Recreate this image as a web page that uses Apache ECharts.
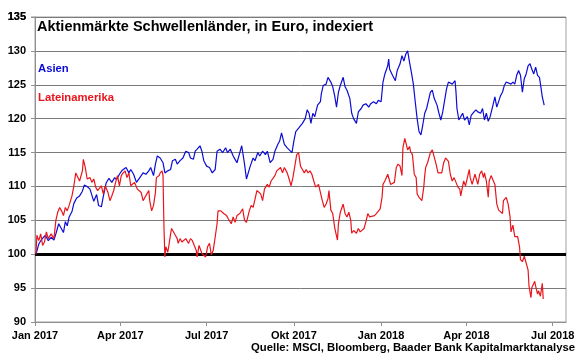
<!DOCTYPE html>
<html><head><meta charset="utf-8">
<script src="https://cdn.jsdelivr.net/npm/echarts@6/dist/echarts.min.js"></script>
<style>html,body{margin:0;padding:0;background:#fff}#c{width:580px;height:359px}</style>
</head><body><div id="c"></div>
<script>
// x = days since 1 Jan 2017
const titleText = 'Aktienmärkte Schwellenländer, in Euro, indexiert';
const seriesNames = ['Asien', 'Lateinamerika'];
const sourceText = 'Quelle: MSCI, Bloomberg, Baader Bank Kapitalmarktanalyse';
const quarterDays = [0, 90, 181, 273, 365, 455, 546];
const quarterLabels = ['Jan 2017', 'Apr 2017', 'Jul 2017', 'Okt 2017', 'Jan 2018', 'Apr 2018', 'Jul 2018'];
const baseline = 100;
const yMin = 90, yMax = 135, yStep = 5;
const xMax = 560;

const asia = [[1,100.0],[4,101.5],[7,102.2],[11,102.8],[14,102.0],[17,102.5],[20,102.1],[22,103.0],[25,104.5],[27,104.3],[30,103.2],[32,104.8],[34,104.2],[36,105.5],[39,106.3],[41,107.5],[44,108.3],[47,108.6],[50,109.3],[52,110.2],[55,110.0],[58,109.6],[60,109.8],[62,107.8],[65,108.8],[67,107.2],[70,107.0],[72,108.5],[75,110.5],[78,111.2],[81,110.6],[84,111.3],[86,111.0],[89,111.8],[92,112.4],
[93,112.5],[96,112.8],[99,112.0],[101,112.5],[104,111.8],[107,110.6],[109,110.8],[112,111.6],[114,112.0],[117,111.8],[120,112.3],[122,112.8],[125,111.6],[127,113.3],[129,114.5],[132,114.2],[135,113.5],[137,112.0],[140,112.3],[143,112.5],[145,113.8],[148,114.0],[150,113.3],[153,113.8],[156,114.2],[159,115.2],[162,115.0],[164,114.2],[167,114.0],[169,115.2],[171,115.5],[174,116.0],[176,115.2],[178,113.8],[181,113.0],[184,112.8],[187,112.0],
[190,112.5],[192,115.2],[195,115.5],[198,115.0],[201,115.7],[203,115.0],[206,115.5],[209,114.5],[211,114.0],[213,113.5],[216,115.0],[218,116.0],[221,113.3],[223,111.1],[225,111.1],[227,113.0],[230,114.2],[232,113.8],[235,115.0],[237,114.5],[240,115.2],[243,114.7],[245,115.2],[248,113.5],[251,114.0],[253,115.2],[256,116.2],[258,116.7],[260,117.9],[263,116.2],[266,115.7],[268,115.5],[271,115.0],[273,116.7],[275,118.1],[278,118.6],
[280,118.8],[282,119.3],[285,120.0],[287,121.3],[289,120.8],[291,119.3],[293,120.8],[295,120.3],[298,122.0],[301,122.5],[302,123.7],[304,124.9],[307,125.1],[309,126.1],[312,125.4],[314,124.7],[316,123.4],[318,121.7],[320,123.9],[322,124.9],[325,126.1],[327,124.7],[329,124.2],[332,123.0],[334,120.8],[336,120.0],[339,119.3],[341,121.0],[344,121.5],[346,122.0],[349,122.2],[352,121.7],[354,122.2],[357,122.5],[360,122.2],[362,122.7],[365,122.5],[367,125.4],[369,126.6],[372,127.8],[373,128.8],
[374,127.3],[377,126.4],[380,125.6],[382,127.1],[385,128.1],[387,129.3],[389,128.5],[391,129.5],[393,130.0],[395,128.3],[397,126.8],[399,125.1],[401,122.5],[403,120.0],[405,118.1],[407,117.6],[409,119.1],[411,120.8],[413,121.5],[415,122.7],[417,123.9],[419,124.2],[421,123.0],[424,122.0],[426,120.8],[428,119.8],[430,121.0],[432,122.7],[434,124.4],[436,125.4],[438,125.6],[440,125.1],[443,125.6],[444,123.9],[445,121.5],[447,119.8],[449,119.8],[451,120.8],[453,119.8],[456,120.3],[458,119.1],[460,120.5],[463,121.0],[465,121.3],
[467,121.0],[470,120.8],[472,121.5],[474,119.8],[476,120.8],[478,119.6],[480,120.3],[483,122.0],[485,123.2],[487,121.7],[489,121.5],[491,123.4],[493,123.9],[495,124.9],[497,125.4],[499,125.6],[502,125.1],[504,125.4],[506,125.1],[508,126.4],[510,127.1],[512,126.4],[514,123.9],[516,125.9],[518,126.6],[520,127.8],[522,128.1],[524,127.3],[526,126.6],[528,127.6],[530,126.4],[532,126.1],[534,124.2],[535,123.2],[537,122.0]];

const lateinamerika = [[1,100.0],[2,102.8],[4,102.0],[6,103.0],[8,101.3],[10,101.8],[12,103.3],[14,102.3],[17,103.0],[20,102.3],[22,105.0],[24,106.2],[26,106.9],[28,106.4],[30,105.7],[32,106.9],[34,106.4],[36,107.2],[39,108.6],[41,110.1],[43,112.0],[45,111.8],[47,110.8],[50,112.3],[51,114.0],[53,112.8],[55,111.1],[58,111.3],[60,110.6],[62,111.1],[64,109.9],[66,109.4],[68,109.6],[70,110.1],[72,108.9],[74,110.1],[77,109.1],[79,107.9],[81,108.6],[83,109.4],[85,110.6],[87,111.6],[89,110.1],[91,111.6],
[93,112.0],[95,112.3],[97,111.3],[99,112.0],[101,110.1],[103,110.1],[105,110.6],[108,109.6],[110,109.4],[112,109.1],[114,107.9],[116,108.1],[118,108.9],[120,109.4],[121,107.9],[123,106.4],[125,107.2],[127,109.1],[128,111.3],[131,111.6],[132,112.0],[134,112.3],[135,111.6],[136,104.0],[137,99.6],[138,101.1],[140,100.3],[141,101.1],[143,103.0],[144,103.8],[146,104.0],[148,102.8],[150,102.3],[151,101.6],[153,102.3],[155,101.8],[157,101.8],[159,102.3],[162,101.6],[164,102.3],[166,102.0],[168,101.8],[170,100.6],[171,99.6],[173,101.3],[176,100.1],[178,100.3],[180,99.6],[182,101.1],[184,101.6],[186,99.9],[188,100.6],
[190,102.5],[192,104.5],[193,106.4],[196,106.4],[199,106.0],[202,105.7],[204,105.2],[207,104.5],[209,105.5],[211,104.7],[213,105.7],[216,106.0],[219,106.7],[221,105.0],[223,104.7],[226,106.4],[228,107.2],[230,106.9],[232,108.1],[234,109.4],[236,109.6],[238,108.9],[240,107.9],[242,109.6],[245,110.3],[247,109.9],[249,110.8],[251,110.6],[253,111.6],[255,112.3],[257,112.5],[259,112.8],[261,112.0],[263,112.8],[266,112.0],[268,111.1],[270,110.1],[272,111.3],[274,113.0],[276,114.7],[278,115.0],
[280,113.0],[282,112.5],[284,112.0],[286,112.5],[288,112.0],[290,112.3],[292,111.8],[294,110.8],[296,109.9],[299,110.3],[301,110.1],[303,107.9],[305,106.9],[307,107.4],[309,108.2],[310,109.4],[312,106.5],[314,106.0],[316,104.0],[317,103.3],[319,102.1],[320,104.5],[322,106.2],[325,107.4],[327,106.0],[329,105.5],[331,106.2],[333,105.0],[334,103.1],[336,103.5],[339,103.1],[341,103.8],[343,103.3],[345,103.5],[347,103.8],[349,104.8],[351,106.0],[353,105.5],[355,105.7],[358,105.7],[360,106.0],[362,106.0],[364,106.7],[366,108.4],[367,110.3],[369,110.8],[372,111.8],[374,110.8],
[375,110.3],[377,110.1],[379,110.6],[381,112.8],[383,113.3],[385,113.0],[387,111.6],[388,115.7],[390,117.1],[392,117.1],[393,115.4],[395,115.9],[396,115.2],[398,114.7],[399,113.3],[400,111.8],[402,111.3],[403,108.9],[405,108.4],[406,108.2],[408,107.9],[410,109.9],[411,111.6],[412,112.8],[414,113.5],[417,115.0],[419,115.4],[421,115.2],[423,113.3],[425,112.0],[427,111.8],[429,112.0],[431,113.5],[433,114.2],[436,113.7],[438,111.8],[440,110.8],[442,111.3],[444,110.6],[446,109.9],[448,109.6],[449,108.6],[452,110.8],[454,110.1],[456,111.3],[458,112.5],[459,111.3],[461,110.3],[464,111.8],[466,110.8],
[467,110.3],[469,111.8],[471,112.3],[473,111.3],[474,112.0],[476,110.8],[478,108.4],[479,110.8],[481,111.6],[483,111.6],[485,110.3],[487,107.4],[489,106.5],[491,106.7],[493,106.0],[494,107.9],[497,108.4],[499,107.4],[501,105.5],[502,103.3],[504,104.3],[506,102.6],[509,102.6],[511,101.1],[512,99.2],[514,98.9],[516,99.7],[518,99.7],[520,97.7],[521,95.3],[523,93.6],[524,95.1],[525,95.1],[527,96.0],[528,95.3],[530,94.1],[531,94.6],[533,93.8],[535,95.7],[536,93.4]];

const blue = '#0c0cd6', red = '#e8161c';
const FONT = '"Liberation Sans", Arial, sans-serif';
const chart = echarts.init(document.getElementById('c'), null, {renderer: 'canvas'});
chart.setOption({
  animation: false,
  backgroundColor: '#fff',
  grid: {left: 35, right: 14, top: 17, bottom: 37, show: true, borderColor: '#a0a0a0', borderWidth: 1, backgroundColor: 'transparent'},
  xAxis: {type: 'value', min: 0, max: xMax,
    axisLine: {show: true, lineStyle: {color: '#909090', width: 1}},
    axisTick: {show: true, customValues: quarterDays, length: 4, lineStyle: {color: '#909090'}},
    axisLabel: {show: true, customValues: quarterDays, margin: 8, hideOverlap: false,
      formatter: v => quarterLabels[quarterDays.indexOf(v)] || '',
      fontFamily: FONT, fontWeight: 'bold', fontSize: 11, color: '#000'},
    splitLine: {show: false}},
  yAxis: {type: 'value', min: yMin, max: yMax, interval: yStep,
    axisLine: {show: true, lineStyle: {color: '#909090', width: 1}},
    axisTick: {show: true, length: 4, lineStyle: {color: '#909090'}},
    axisLabel: {margin: 9, showMaxLabel: true, showMinLabel: true, hideOverlap: false,
      fontFamily: FONT, fontWeight: 'bold', fontSize: 11, color: '#000'},
    splitLine: {show: true, lineStyle: {color: '#7a7a7a', width: 1}}},
  series: [
    {name: seriesNames[0], type: 'line', data: asia, showSymbol: false, symbol: 'none',
     lineStyle: {color: blue, width: 1.2}, z: 3},
    {name: seriesNames[1], type: 'line', data: lateinamerika, showSymbol: false, symbol: 'none',
     lineStyle: {color: red, width: 1.2}, z: 4,
     markLine: {silent: true, symbol: ['none', 'none'], label: {show: false},
       lineStyle: {color: '#000', width: 3, type: 'solid'}, data: [{yAxis: baseline}], z: 2}}
  ],
  graphic: [
    {type: 'text', left: 37, top: 19, style: {text: titleText, fill: '#000', font: 'bold 14.5px ' + FONT}},
    {type: 'text', left: 38, top: 63.5, style: {text: seriesNames[0], fill: blue, font: 'bold 11.3px ' + FONT}},
    {type: 'text', left: 38, top: 92, style: {text: seriesNames[1], fill: red, font: 'bold 11.3px ' + FONT}},
    {type: 'text', right: 5, top: 342, style: {text: sourceText, fill: '#000', font: 'bold 11.3px ' + FONT}}
  ]
});
// top axis label (the library drops the max label at the grid edge): place it via the axis scale
const topPos = chart.convertToPixel({yAxisIndex: 0}, yMax);
const axisX = chart.convertToPixel({xAxisIndex: 0}, 0);
chart.setOption({graphic: [{id: 'ymaxlabel', type: 'text', x: axisX - 9, y: topPos,
  style: {text: String(yMax), fill: '#000', font: 'bold 11px ' + FONT, align: 'right', verticalAlign: 'middle'}},
  {id: 'ymaxtick', type: 'line', shape: {x1: axisX - 4, y1: topPos, x2: axisX, y2: topPos}, style: {stroke: '#909090', lineWidth: 1}}]});
</script></body></html>
